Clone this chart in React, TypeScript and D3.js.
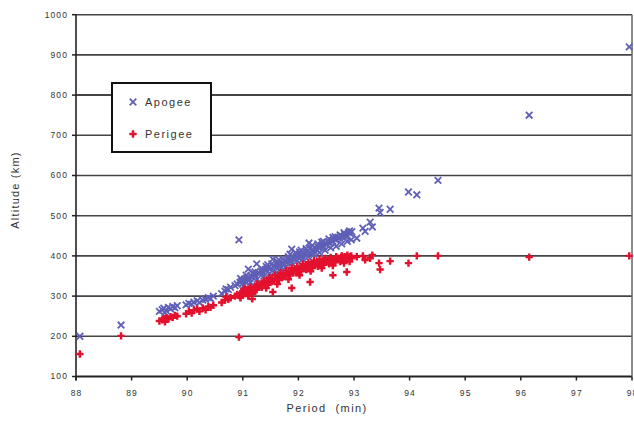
import React from "react";
import * as d3 from "d3";

// Orbit data: period (min), apogee (km), perigee (km) — paired by object
const periods = [
  88.07, 88.81,
  89.5, 89.55, 89.58, 89.6, 89.62, 89.66, 89.7, 89.74, 89.78, 89.82,
  89.98, 90.03, 90.08, 90.12, 90.18, 90.22, 90.28, 90.33, 90.38, 90.42, 90.47,
  90.62, 90.68, 90.7, 90.74, 90.78,
  90.86, 90.9, 90.93, 90.95, 90.98, 91.0, 91.03, 91.05, 91.08, 91.1, 91.12, 91.15, 91.17, 91.2, 91.22, 91.25, 91.28, 91.3,
  91.33, 91.36, 91.4, 91.43, 91.46, 91.5, 91.54, 91.56, 91.6, 91.63, 91.66, 91.7, 91.73, 91.76, 91.8,
  91.83, 91.86, 91.88, 91.9, 91.93, 91.96, 92.0, 92.03, 92.06, 92.09, 92.12, 92.15, 92.19, 92.21, 92.24, 92.27, 92.3,
  92.33, 92.36, 92.39, 92.42, 92.45, 92.48, 92.51, 92.54, 92.57, 92.6, 92.62, 92.65, 92.68,
  92.71, 92.74, 92.77, 92.8, 92.83, 92.87, 92.9, 92.93, 92.96,
  91.02, 91.14, 91.26, 91.38, 91.48, 91.58, 91.68, 91.78, 91.88, 91.98, 92.08, 92.18, 92.28, 92.38, 92.48, 92.58, 92.68, 92.78, 92.88, 92.95,
  91.18, 91.42, 91.62, 91.82, 92.02, 92.22, 92.42, 92.62, 92.82, 92.92,
  91.06, 91.22, 91.34, 91.45, 91.52, 91.65, 91.72, 91.85, 91.95, 92.05, 92.14, 92.25, 92.35, 92.45, 92.55, 92.66, 92.75, 92.85, 90.96, 91.1,
  93.05, 93.16, 93.2, 93.29, 93.33, 93.45, 93.47, 93.65, 93.98, 94.13, 94.51, 96.15, 97.95,
];
const apogees = [
  200, 228,
  262, 266, 270, 259, 264, 272, 268, 274, 271, 276,
  278, 282, 280, 285, 288, 284, 290, 292, 296, 294, 300,
  306, 312, 318, 316, 322,
  326, 330, 440, 334, 338, 332, 342, 336, 346, 367, 344, 350, 348, 354, 352, 380, 358, 356,
  362, 360, 366, 364, 370, 368, 392, 374, 372, 378, 376, 382, 380, 386, 384,
  390, 388, 417, 394, 392, 398, 396, 402, 400, 406, 404, 410, 432, 408, 414, 412, 418,
  416, 422, 420, 426, 424, 430, 428, 434, 432, 438, 436, 442, 440,
  446, 444, 450, 448, 454, 452, 458, 456, 460,
  326, 334, 342, 350, 356, 362, 368, 374, 382, 388, 392, 398, 404, 408, 414, 420, 424, 430, 436, 440,
  358, 374, 386, 398, 410, 420, 434, 446, 458, 462,
  352, 360, 368, 378, 380, 390, 392, 404, 408, 414, 418, 426, 430, 436, 442, 448, 452, 448, 344, 338,
  444, 469, 461, 484, 472, 519, 508, 516, 559, 552, 588, 750, 920,
];
const perigees = [
  156, 201,
  238, 241, 244, 236, 246, 243, 249, 247, 252, 250,
  256, 262, 258, 265, 268, 262, 270, 266, 274, 272, 277,
  284, 290, 298, 292, 296,
  300, 304, 198, 298, 308, 312, 306, 316, 310, 302, 318, 314, 293, 320, 324, 316, 322, 328,
  326, 332, 330, 336, 334, 340, 310, 338, 344, 342, 348, 346, 352, 350, 356,
  354, 360, 320, 358, 364, 362, 368, 366, 372, 370, 374, 372, 378, 335, 376, 380, 378,
  382, 380, 384, 382, 386, 384, 388, 386, 390, 388, 352, 392, 390,
  394, 392, 396, 394, 398, 360, 396, 398, 394,
  318, 322, 330, 338, 346, 352, 358, 364, 370, 374, 380, 384, 388, 392, 394, 396, 398, 400, 402, 400,
  306, 320, 330, 342, 352, 362, 370, 376, 382, 386,
  308, 316, 322, 328, 336, 340, 348, 352, 358, 362, 366, 370, 374, 378, 380, 384, 386, 390, 296, 300,
  398, 400, 390, 394, 402, 382, 366, 387, 382, 400, 400, 397, 400,
];

const xTicks = [88, 89, 90, 91, 92, 93, 94, 95, 96, 97, 98];
const yTicks = [100, 200, 300, 400, 500, 600, 700, 800, 900, 1000];
const seriesNames = ["Apogee", "Perigee"];

const W = 634;
const H = 422;
const APO = "#5f5fb8";
const PER = "#e3102e";
const FONT = "'Liberation Sans', Arial, sans-serif";

export default function App() {
  const x = d3.scaleLinear().domain([88, 98]).range([76, 632]);
  const y = d3.scaleLinear().domain([100, 1000]).range([376.5, 14.7]);
  const xSym = d3.symbol().type(d3.symbolX).size(30)();
  const crossSym = d3.symbol().type(d3.symbolCross).size(30)();

  return (
    <svg
      width={W}
      height={H}
      style={{ position: "absolute", left: 0, top: 0, background: "#fff" }}
      fontFamily={FONT}
    >
      <rect width={W} height={H} fill="#fff" />
      {/* gridlines */}
      {yTicks.map((t) => (
        <line
          key={"g" + t}
          x1={x(88)}
          x2={x(98)}
          y1={y(t)}
          y2={y(t)}
          stroke={t === 100 ? "#222" : "#444"}
          strokeWidth={t === 100 ? 2.2 : t === 800 ? 2 : 1.6}
        />
      ))}
      {/* right border */}
      <line x1={x(98)} x2={x(98)} y1={y(1000)} y2={y(100)} stroke="#666" strokeWidth={1.5} />
      {/* y axis */}
      <line x1={x(88)} x2={x(88)} y1={y(1000)} y2={y(100) + 4} stroke="#222" strokeWidth={1.6} />
      {yTicks.map((t) => (
        <g key={"yt" + t}>
          <line x1={x(88) - 4} x2={x(88)} y1={y(t)} y2={y(t)} stroke="#222" strokeWidth={1.5} />
          <text
            x={68}
            y={y(t)}
            dy="0.35em"
            textAnchor="end"
            fontSize={8.5}
            letterSpacing={1.1}
            fill="#333"
          >
            {t}
          </text>
        </g>
      ))}
      {xTicks.map((t) => (
        <g key={"xt" + t}>
          <line x1={x(t)} x2={x(t)} y1={y(100)} y2={y(100) + 4} stroke="#222" strokeWidth={1.5} />
          <text x={x(t) + 0.5} y={396} textAnchor="middle" fontSize={8.5} letterSpacing={1.1} fill="#333">
            {t}
          </text>
        </g>
      ))}
      {/* axis titles */}
      <text
        transform={`translate(19,190) rotate(-90)`}
        textAnchor="middle"
        fontSize={11}
        letterSpacing={1.2}
        fill="#333"
      >
        Altitude (km)
      </text>
      <text x={327} y={412} textAnchor="middle" fontSize={11} letterSpacing={1.4} fill="#333" style={{ whiteSpace: "pre" }}>
        {"Period  (min)"}
      </text>
      {/* apogee markers */}
      <g>
        {periods.map((p, i) => (
          <path
            key={"a" + i}
            d={xSym}
            transform={`translate(${x(p)},${y(apogees[i])})`}
            fill="none"
            stroke={APO}
            strokeWidth={1.8}
          />
        ))}
      </g>
      {/* perigee markers */}
      <g>
        {periods.map((p, i) => (
          <path
            key={"p" + i}
            d={crossSym}
            transform={`translate(${x(p)},${y(perigees[i])})`}
            fill={PER}
          />
        ))}
      </g>
      {/* legend */}
      <rect x={112} y={83} width={99} height={69} fill="#fff" stroke="#111" strokeWidth={2} />
      <path d={xSym} transform="translate(133,102)" fill="none" stroke={APO} strokeWidth={1.8} />
      <text x={145} y={102} dy="0.35em" fontSize={11} letterSpacing={1.5} fill="#333">
        {seriesNames[0]}
      </text>
      <path d={crossSym} transform="translate(133,134)" fill={PER} />
      <text x={145} y={134} dy="0.35em" fontSize={11} letterSpacing={1.5} fill="#333">
        {seriesNames[1]}
      </text>
    </svg>
  );
}
